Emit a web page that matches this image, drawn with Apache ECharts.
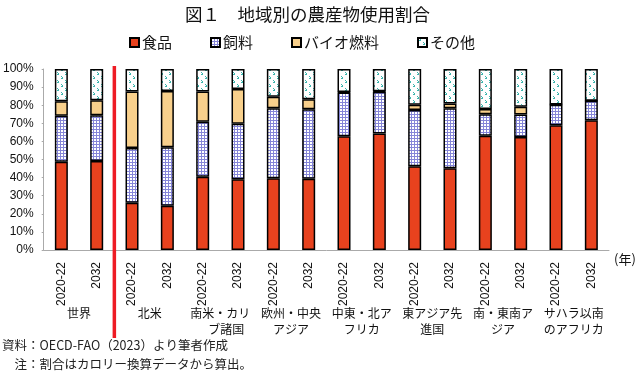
<!DOCTYPE html>
<html><head><meta charset="utf-8">
<script src="https://cdn.jsdelivr.net/npm/echarts@6/dist/echarts.min.js"></script>
<style>html,body{margin:0;padding:0;background:#fff}#c{width:640px;height:374px}</style>
</head><body><div id="c"></div>
<script>
const groups = ['世界','北米','南米・カリ\n　ブ諸国','欧州・中央\nアジア','中東・北ア\nフリカ','東アジア先\n進国','南・東南ア\nジア','サハラ以南\nのアフリカ'];
const years = ['2020-22','2032'];
const seriesNames = ['食品','飼料','バイオ燃料','その他'];
const food  = [48.7,49.2,26.1,24.4,40.5,39.1,39.6,39.4,62.9,64.4,46.3,45.2,63.1,62.4,68.9,71.7];
const feed  = [25.5,25.2,30.2,32.3,30.4,30.7,38.7,38.4,24.1,23.0,31.1,33.1,11.9,12.4,11.4,10.7];
const bio   = [8.0,8.4,31.3,31.2,16.7,19.1,6.3,5.5,0.3,0.3,2.9,2.6,2.9,4.4,0.1,0.1];
const other = [17.8,17.2,12.4,12.1,12.4,11.1,15.4,16.7,12.7,12.3,19.7,19.1,22.1,20.8,19.6,17.5];
const yTicks = [0,10,20,30,40,50,60,70,80,90,100];

const cats = [];
groups.forEach((g,gi)=>years.forEach(y=>cats.push(gi+'|'+y)));

function feedPattern(){
  const c=document.createElement('canvas');c.width=3;c.height=3;
  const x=c.getContext('2d');x.fillStyle='#fff';x.fillRect(0,0,3,3);
  x.fillStyle='#8585d8';x.fillRect(0,0,3,1);x.fillRect(0,0,1,3);return c;
}
function otherPattern(){
  const c=document.createElement('canvas');c.width=8;c.height=8;
  const x=c.getContext('2d');x.fillStyle='#fff';x.fillRect(0,0,8,8);
  x.fillStyle='#3db5ae';
  x.fillRect(1,0,1,1);x.fillRect(2,1,1,1);x.fillRect(1,2,2,1);
  x.fillRect(5,4,1,1);x.fillRect(6,5,1,1);x.fillRect(5,6,2,1);
  return c;
}

const chart = echarts.init(document.getElementById('c'), null, {renderer:'canvas'});
const border = {borderColor:'#000', borderWidth:1.5};
const fills = ['#e8421e', {image:feedPattern(), repeat:'repeat'}, '#f8d08c', {image:otherPattern(), repeat:'repeat'}];
const values = [food, feed, bio, other];
const jp = "'Noto Sans CJK JP', sans-serif";
const num = "'Liberation Sans Narrow', 'Liberation Sans', sans-serif";

chart.setOption({
  animation:false,
  title:{text:'図１　地域別の農産物使用割合', left:180, top:1, textStyle:{fontFamily:jp, fontSize:17.5, fontWeight:'normal', color:'#111'}},
  legend:{left:124, top:30, itemWidth:9, itemHeight:9, itemGap:38, icon:'rect',
    textStyle:{fontFamily:jp, fontSize:15, color:'#111', padding:[0,0,0,-2]}, data:seriesNames},
  grid:{left:38, right:31, top:69, bottom:124, containLabel:false},
  xAxis:[
    {type:'category', data:cats, position:'bottom',
     axisLine:{lineStyle:{color:'#aaa', width:1}},
     axisTick:{length:50, interval:0, lineStyle:{color:'#bbb'}},
     axisLabel:{rotate:90, margin:12, interval:0, fontFamily:num, fontSize:12, color:'#111', formatter:v=>v.split('|')[1]}},
    {type:'category', data:groups, position:'bottom',
     axisLine:{show:false},
     axisTick:{length:87, interval:0, lineStyle:{color:'#bbb'}},
     axisLabel:{margin:55, interval:0, fontFamily:jp, fontSize:12, lineHeight:16, color:'#111'}}
  ],
  yAxis:{type:'value', min:0, max:100, interval:10,
    axisLine:{show:true, lineStyle:{color:'#aaa'}},
    axisTick:{show:true, length:2, lineStyle:{color:'#aaa'}},
    splitLine:{show:false},
    axisLabel:{margin:10, fontFamily:num, fontSize:12, color:'#111', formatter:'{value}%'}},
  series: seriesNames.map((n,i)=>({
    name:n, type:'bar', stack:'all', xAxisIndex:0, barWidth:13,
    itemStyle:Object.assign({color:fills[i]}, border),
    data:values[i]
  }))
});

const xa = chart.convertToPixel({xAxisIndex:0}, cats[1]);
const xb = chart.convertToPixel({xAxisIndex:0}, cats[2]);
const yTop = chart.convertToPixel({yAxisIndex:0}, 100);
const yBot = chart.convertToPixel({yAxisIndex:0}, 0);
const xr = (xa+xb)/2;
chart.setOption({graphic:[
  {type:'line', shape:{x1:xr, y1:yTop-3, x2:xr, y2:yBot+88}, style:{stroke:'#ee1c24', lineWidth:3.5}, z:100},
  {type:'text', left:614, top:yBot+3, style:{text:'(年)', font:"13px 'Noto Sans CJK JP'", fill:'#111'}},
  {type:'text', left:2, top:339, style:{text:'資料：OECD-FAO（2023）より筆者作成', font:"12.5px 'Noto Sans CJK JP'", fill:'#222'}},
  {type:'text', left:2, top:358, style:{text:'　注：割合はカロリー換算データから算出。', font:"12.5px 'Noto Sans CJK JP'", fill:'#222'}}
]});
</script></body></html>
